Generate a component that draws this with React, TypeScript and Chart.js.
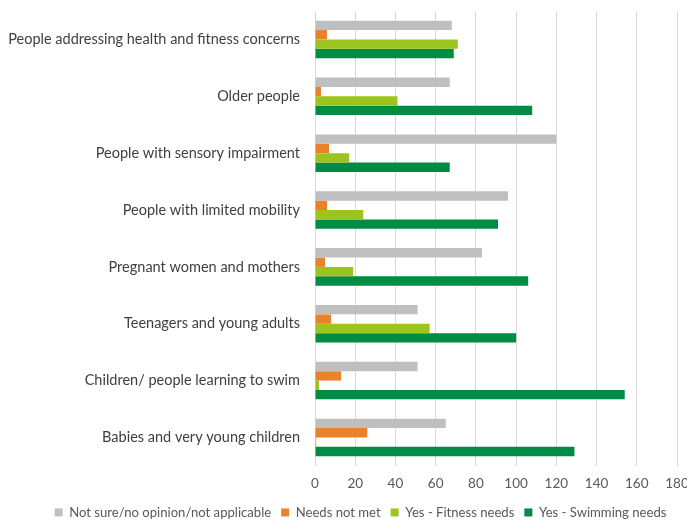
import React, { useEffect, useRef } from "react";
import { Chart, registerables } from "chart.js";

Chart.register(...registerables);

const categories = [
  "People addressing health and fitness concerns",
  "Older people",
  "People with sensory impairment",
  "People with limited mobility",
  "Pregnant women and mothers",
  "Teenagers and young adults",
  "Children/ people learning to swim",
  "Babies and very young children",
];

const notSure = [68, 67, 120, 96, 83, 51, 51, 65];
const needsNotMet = [6, 3, 7, 6, 5, 8, 13, 26];
const fitnessNeeds = [71, 41, 17, 24, 19, 57, 2, 0.6];
const swimmingNeeds = [69, 108, 67, 91, 106, 100, 154, 129];

const seriesNames = [
  "Not sure/no opinion/not applicable",
  "Needs not met",
  "Yes - Fitness needs",
  "Yes - Swimming needs",
];

const xTicks = [0, 20, 40, 60, 80, 100, 120, 140, 160, 180];

const FONT = "Lato, 'Open Sans', sans-serif";

const shiftLegend = {
  id: "shiftLegend",
  afterLayout(chart: any) {
    const lg = chart.legend;
    if (lg) {
      lg.left += 22;
      lg.right += 22;
    }
  },
};

export default function App() {
  const ref = useRef<HTMLCanvasElement | null>(null);

  useEffect(() => {
    if (!ref.current) return;
    const colors = ["#BFBFBF", "#E9822B", "#9CC41E", "#008C45"];
    const values = [notSure, needsNotMet, fitnessNeeds, swimmingNeeds];
    const chart = new Chart(ref.current, {
      type: "bar",
      data: {
        labels: categories,
        datasets: seriesNames.map((name, i) => ({
          label: name,
          data: values[i],
          backgroundColor: colors[i],
          borderWidth: 0,
          barPercentage: 1,
          categoryPercentage: 0.66,
        })),
      },
      plugins: [shiftLegend],
      options: {
        indexAxis: "y",
        animation: false,
        responsive: true,
        maintainAspectRatio: false,
        layout: { padding: { top: 11, right: 10, left: 0, bottom: -8 } },
        plugins: {
          tooltip: { enabled: false },
          legend: {
            position: "bottom",
            labels: {
              boxWidth: 8,
              boxHeight: 8,
              padding: 10,
              color: "#595959",
              font: { family: FONT, size: 13.1 },
            },
          },
        },
        scales: {
          x: {
            min: 0,
            max: 180,
            afterBuildTicks: (axis: any) => {
              axis.ticks = xTicks.map((v) => ({ value: v }));
            },
            grid: { color: "#D9D9D9", drawTicks: false, lineWidth: 1 },
            border: { display: false },
            ticks: {
              color: "#595959",
              padding: 10,
              font: { family: FONT, size: 13.5 },
            },
            afterFit: (axis: any) => {
              axis.height = 30;
              axis.paddingLeft = 0;
              axis.paddingRight = 0;
            },
          },
          y: {
            grid: { display: false, drawTicks: false },
            border: { display: false },
            ticks: {
              color: "#404040",
              padding: 15,
              font: { family: FONT, size: 14.5 },
            },
            afterFit: (axis: any) => {
              axis.width = 315;
              axis.paddingTop = 0;
              axis.paddingBottom = 0;
            },
          },
        },
      },
    });
    return () => chart.destroy();
  }, []);

  return (
    <div style={{ position: "fixed", left: 0, top: 0, width: 687, height: 521, background: "#fff" }}>
      <canvas ref={ref} />
    </div>
  );
}
